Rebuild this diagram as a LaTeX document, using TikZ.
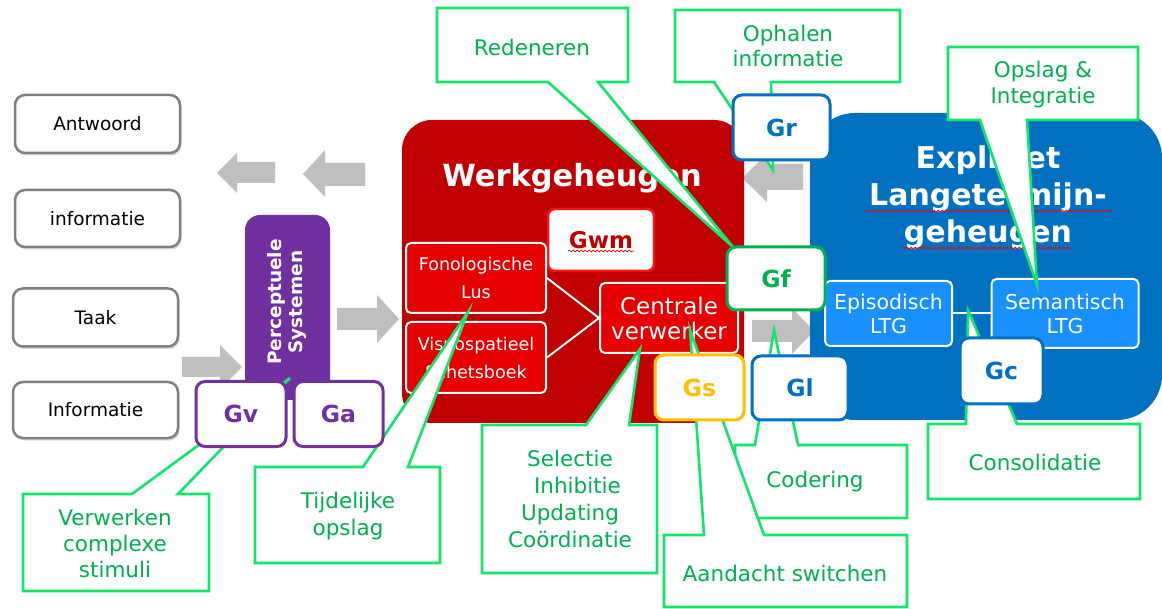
\documentclass[tikz,border=0pt]{standalone}
\usepackage{fontspec}
\setmainfont{DejaVu Sans}
\usetikzlibrary{shadows,decorations.pathmorphing}
\definecolor{arrgray}{HTML}{BFBFBF}
\definecolor{boxgray}{HTML}{808080}
\definecolor{purp}{HTML}{7030A0}
\definecolor{wmred}{HTML}{C00000}
\definecolor{inred}{HTML}{E60000}
\definecolor{brred}{HTML}{FF1010}
\definecolor{ltgblue}{HTML}{0070C0}
\definecolor{inblue}{HTML}{1990FF}
\definecolor{cgreen}{HTML}{12E46C}
\definecolor{ctext}{HTML}{00B050}
\definecolor{gfgreen}{HTML}{00B050}
\definecolor{gsorange}{HTML}{FFC000}
\begin{document}
\begin{tikzpicture}[x=1pt,y=-1pt,
  graybox/.style={draw=boxgray, line width=2.5pt, rounded corners=10pt, fill=white,
    font=\fontsize{18.5}{22}\selectfont, inner sep=0pt, minimum width=165pt, minimum height=58pt,
    drop shadow={shadow xshift=1.5pt, shadow yshift=-2.5pt, opacity=0.3}},
  blockarrow/.style={fill=arrgray, draw=none},
  gbox/.style={fill=white, line width=3pt, rounded corners=9pt, inner sep=0pt,
    font=\bfseries\fontsize{23.5}{26}\selectfont},
  redin/.style={fill=inred, draw=white, line width=2pt, rounded corners=5pt, text=white,
    align=center, inner sep=0pt},
  bluein/.style={fill=inblue, draw=white, line width=2pt, rounded corners=5pt, text=white,
    align=center, inner sep=0pt, font=\fontsize{20.5}{24}\selectfont},
  callout/.style={fill=white, draw=cgreen, line width=2.6pt, line join=miter},
  calltext/.style={text=ctext, align=center, font=\fontsize{21.5}{26}\selectfont},
  squiggle/.style={draw=red, line width=0.7pt, decorate, decoration={snake, amplitude=0.9pt, segment length=4pt}}
]
\useasboundingbox (0,0) rectangle (1162,609);
\fill[white] (0,0) rectangle (1162,609);

% gray block arrows
\path[blockarrow] (275,162) -- (237,162) -- (237,153) -- (217,173) -- (237,193) -- (237,183) -- (275,183) -- cycle;
\path[blockarrow] (365,163) -- (325,163) -- (325,150) -- (303,174) -- (325,197) -- (325,186) -- (365,186) -- cycle;
\path[blockarrow] (182,357) -- (220,357) -- (220,345) -- (242,367) -- (220,389) -- (220,377) -- (182,377) -- cycle;
\path[blockarrow] (337,308) -- (377,308) -- (377,295) -- (399,319) -- (377,343) -- (377,330) -- (337,330) -- cycle;
\path[blockarrow] (803,164) -- (767,164) -- (767,154) -- (742,178) -- (767,202) -- (767,190) -- (803,190) -- cycle;
\path[blockarrow] (752,320) -- (792,320) -- (792,308) -- (814,331) -- (792,354) -- (792,342) -- (752,342) -- cycle;

% left gray boxes
\node[graybox] (antw) at (97.5,124) {Antwoord};
\node[graybox, minimum height=57pt] (info1) at (97.5,218.5) {informatie};
\node[graybox] (taak) at (95.5,317.5) {Taak};
\node[graybox, minimum height=56pt] (info2) at (95.5,410) {Informatie};

% perceptual systems
\path[fill=purp, rounded corners=15pt] (245,400) -- (245,215) -- (330,215) -- (330,400) [sharp corners] -- cycle;
\node[text=white, font=\bfseries\fontsize{18.5}{20.5}\selectfont, align=center, rotate=90] (perc) at (287,302) {Perceptuele\\Systemen};

% working memory
\path[fill=wmred, rounded corners=30pt] (402,120) rectangle (744,423);
\node[text=white, font=\bfseries\fontsize{30.5}{34}\selectfont] (wm) at (572,178) {Werkgeheugen};
\node[fill=white, draw=brred, line width=2.5pt, rounded corners=7pt, minimum width=106pt, minimum height=62pt,
  text=wmred, font=\bfseries\fontsize{23}{26}\selectfont, inner sep=0pt] (gwm) at (601,240) {Gwm};
\draw[squiggle] (568,251) -- (634,251);
\node[redin, minimum width=140pt, minimum height=70pt, font=\fontsize{17.5}{28}\selectfont] (fono) at (476,278) {Fonologische\\Lus};
\node[redin, minimum width=140pt, minimum height=71pt, font=\fontsize{17.5}{28}\selectfont] (visuo) at (476,357.5) {Visuospatieel\\Schetsboek};
\node[redin, minimum width=138pt, minimum height=70pt, font=\fontsize{23}{25}\selectfont] (cv) at (669,318) {Centrale\\verwerker};
\draw[white, line width=2pt] (fono.east) -- (cv.west) -- (visuo.east);

% explicit long-term memory
\path[fill=ltgblue, rounded corners=45pt] (810,113) rectangle (1162,420);
\node[text=white, font=\bfseries\fontsize{30}{37}\selectfont, align=center] (ltg) at (988,197) {Expliciet\\Langetermijn-\\geheugen};
\draw[squiggle] (865,211) -- (1112,211);
\draw[squiggle] (902,248) -- (1072,248);
\node[bluein, minimum width=127pt, minimum height=65pt] (epi) at (888.5,313.5) {Episodisch\\LTG};
\node[bluein, minimum width=147pt, minimum height=69pt] (sem) at (1065,313.5) {Semantisch\\LTG};
\draw[white, line width=2pt] (epi.east) -- (sem.west);

% callouts
\draw[callout] (437,8) -- (628,8) -- (628,82) -- (598,82) -- (733,247) -- (548,82) -- (437,82) -- cycle;
\node[calltext] (t-red) at (532,47) {Redeneren};
\draw[callout] (675,10) -- (900,10) -- (900,82) -- (771,82) -- (773,170) -- (714,82) -- (675,82) -- cycle;
\node[calltext, font=\fontsize{21.5}{25}\selectfont] (t-oph) at (788,46) {Ophalen\\informatie};
\draw[callout] (948,47) -- (1138,47) -- (1138,120) -- (1027,120) -- (1037,285) -- (980,120) -- (948,120) -- cycle;
\node[calltext] (t-ops) at (1043,85) {Opslag \&\\Integratie};
\draw[callout] (23,494) -- (132,494) -- (290,378) -- (178,494) -- (209,494) -- (209,591) -- (23,591) -- cycle;
\node[calltext] (t-ver) at (115,543) {Verwerken\\complexe\\stimuli};
\draw[callout] (255,467) -- (363,467) -- (468,312) -- (408,467) -- (440,467) -- (440,563) -- (255,563) -- cycle;
\node[calltext, font=\fontsize{21.5}{27}\selectfont] (t-tij) at (348,516) {Tijdelijke\\opslag};
\draw[callout] (482,425) -- (586,425) -- (640,349) -- (629,425) -- (657,425) -- (657,573) -- (482,573) -- cycle;
\node[calltext, font=\fontsize{21.5}{26.7}\selectfont] (t-sel) at (570,499) {Selectie\\\hspace*{15pt}Inhibitie\\Updating\\Coördinatie};
\draw[callout] (735,445) -- (755,445) -- (774,330) -- (798,445) -- (907,445) -- (907,518) -- (735,518) -- cycle;
\node[calltext] (t-cod) at (815,482) {Codering};
\draw[callout] (664,535) -- (704,535) -- (690,330) -- (764,535) -- (907,535) -- (907,607) -- (664,607) -- cycle;
\node[calltext] (t-aan) at (785,573) {Aandacht switchen};
\draw[callout] (928,424) -- (966,424) -- (968,310) -- (1017,424) -- (1140,424) -- (1140,499) -- (928,499) -- cycle;
\node[calltext] (t-con) at (1035,462) {Consolidatie};

% G boxes
\node[gbox, draw=purp, text=purp, minimum width=90pt, minimum height=65pt] (gv) at (241,414) {Gv};
\node[gbox, draw=purp, text=purp, minimum width=89pt, minimum height=65pt] (ga) at (338.5,414) {Ga};
\node[gbox, draw=ltgblue, text=ltgblue, minimum width=97pt, minimum height=65pt] (gr) at (781.5,127.5) {Gr};
\node[gbox, draw=gfgreen, text=gfgreen, minimum width=98pt, minimum height=63pt] (gf) at (776,278.5) {Gf};
\node[gbox, draw=gsorange, text=gsorange, minimum width=89pt, minimum height=65pt] (gs) at (699.5,387.5) {Gs};
\node[gbox, draw=ltgblue, text=ltgblue, minimum width=96pt, minimum height=64pt] (gl) at (800,388) {Gl};
\node[gbox, draw=ltgblue, text=ltgblue, minimum width=83pt, minimum height=66pt] (gc) at (1001.5,371) {Gc};
\end{tikzpicture}
\end{document}
